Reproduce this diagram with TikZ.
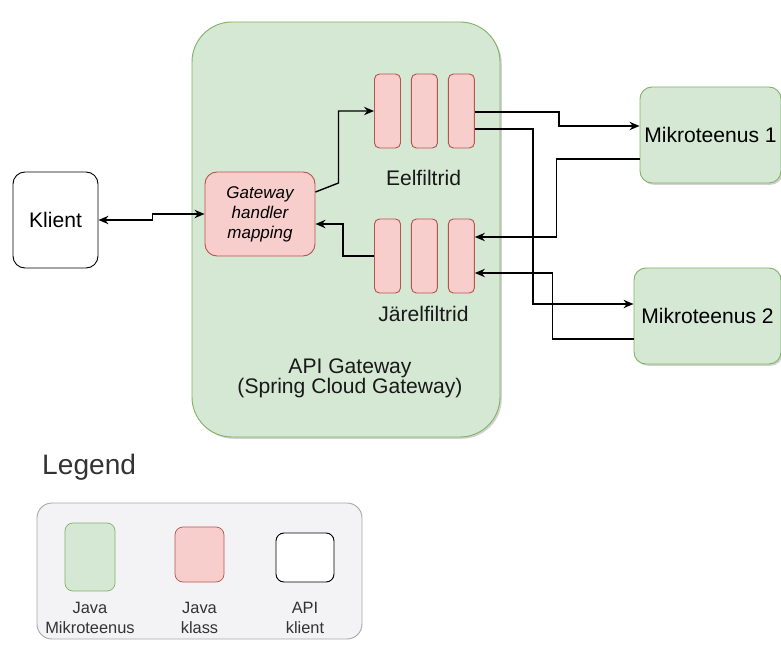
\documentclass[tikz,border=0pt]{standalone}
\usepackage{fontspec}
\setmainfont{Liberation Sans}
\usepackage{tikz}
\usetikzlibrary{shapes,arrows,positioning,calc,shadows,arrows.meta}

\definecolor{msgreen}{HTML}{D5E8D4}
\definecolor{msgreenline}{HTML}{82B366}
\definecolor{clsred}{HTML}{F8CECC}
\definecolor{clsredline}{HTML}{B85450}
\definecolor{legendfill}{HTML}{F3F3F5}
\definecolor{legendline}{HTML}{A8A8A8}
\definecolor{labelgray}{HTML}{333333}

\begin{document}
\begin{tikzpicture}[x=0.03cm, y=-0.03cm,
        softshadow/.style={drop shadow={shadow xshift=1.5pt, shadow yshift=-1.5pt, opacity=0.18, fill=black}},
        gwbox/.style={draw=msgreenline, fill=msgreen, rounded corners=1.2cm, line width=0.8pt, softshadow},
        service/.style={draw=msgreenline, fill=msgreen, rounded corners=0.36cm, line width=0.8pt, align=center, font=\fontsize{18}{21}\selectfont, softshadow},
        client/.style={draw=black, fill=white, rounded corners=0.36cm, line width=0.8pt, align=center, font=\fontsize{18}{21}\selectfont},
        javaclass/.style={draw=clsredline, fill=clsred, rounded corners=0.36cm, line width=0.8pt, align=center, font=\fontsize{14.5}{17}\selectfont\itshape},
        filterbox/.style={draw=clsredline, fill=clsred, rounded corners=0.15cm, line width=0.8pt, minimum width=0.78cm, minimum height=2.22cm, inner sep=0pt},
        caption/.style={font=\fontsize{18}{17}\selectfont, align=center, text=black!90},
        keytext/.style={font=\fontsize{14}{17}\selectfont, align=center, text=labelgray},
        conn/.style={line width=1.2pt},
        >={Stealth[length=3mm,width=2.5mm]}
    ]
        \useasboundingbox (0,0) rectangle (781,646);

        % gateway and its parts
        \node [gwbox, minimum width=9.24cm, minimum height=12.45cm] (gw) at (346,229.5) {};
        \node [javaclass, minimum width=3.3cm, minimum height=2.52cm] (handler) at (260,214) {Gateway\\handler\\mapping};

        \node [filterbox] (eel1) at (387.5,111) {};
        \node [filterbox, right=0.3cm of eel1] (eel2) {};
        \node [filterbox, right=0.3cm of eel2] (eel3) {};
        \node [caption] (eellabel) at (423.5,178) {Eelfiltrid};

        \node [filterbox] (jar1) at (387.5,256) {};
        \node [filterbox, right=0.3cm of jar1] (jar2) {};
        \node [filterbox, right=0.3cm of jar2] (jar3) {};
        \node [caption] (jarlabel) at (423.5,314) {Järelfiltrid};

        \node [caption] (gwlabel) at (350,378) {API Gateway\\(Spring Cloud Gateway)};

        % client and services
        \node [client, minimum width=2.55cm, minimum height=2.88cm] (klient) at (55.5,220) {Klient};
        \node [service, minimum width=4.23cm, minimum height=2.88cm] (m1) at (710.5,135) {Mikroteenus 1};
        \node [service, minimum width=4.41cm, minimum height=2.88cm] (m2) at (707.5,316) {Mikroteenus 2};

        \draw [conn, <->] (klient.east) -- ++(54,0) |- (handler.west);
        \draw [conn, ->] ($(handler.east)+(0,-22)$) -- ++(23,-9) |- (eel1.west);
        \draw [conn, ->] (jar1.west) -- ++(-31,0) |- ($(handler.east)+(0,10)$);
        \draw [conn, ->] ($(eel3.east)+(0,1)$) -- ++(84,0) |- ($(m1.west)+(0,-9)$);
        \draw [conn, ->] ($(eel3.east)+(0,18)$) -- ++(58,0) |- ($(m2.west)+(0,-12)$);
        \draw [conn, ->] ($(m1.west)+(0,24)$) -- ++(-83,0) |- ($(jar3.east)+(0,-19)$);
        \draw [conn, ->] ($(m2.west)+(0,23)$) -- ++(-81,0) |- ($(jar3.east)+(0,17)$);

        % legend
        \node [anchor=west, inner sep=0pt, font=\fontsize{24}{28}\selectfont, text=labelgray] (legendtitle) at (42,467) {Legend};
        \node [draw=legendline, fill=legendfill, rounded corners=0.45cm, line width=0.8pt, minimum width=9.75cm, minimum height=4.08cm] (legend) at (199.5,571) {};
        \node [draw=msgreenline, fill=msgreen, rounded corners=0.24cm, line width=0.6pt, minimum width=1.5cm, minimum height=2.04cm] (keyms) at (90,557) {};
        \node [draw=clsredline, fill=clsred, rounded corners=0.24cm, line width=0.6pt, minimum width=1.47cm, minimum height=1.65cm] (keycls) at (199.5,554.5) {};
        \node [draw=black, fill=white, rounded corners=0.24cm, line width=0.8pt, minimum width=1.74cm, minimum height=1.47cm] (keycli) at (305,557.5) {};
        \node [keytext] (keymstext) at (90,618) {Java\\Mikroteenus};
        \node [keytext] (keyclstext) at (199.5,618) {Java\\klass};
        \node [keytext] (keyclitext) at (305,618) {API\\klient};

    \end{tikzpicture}
\end{document}
